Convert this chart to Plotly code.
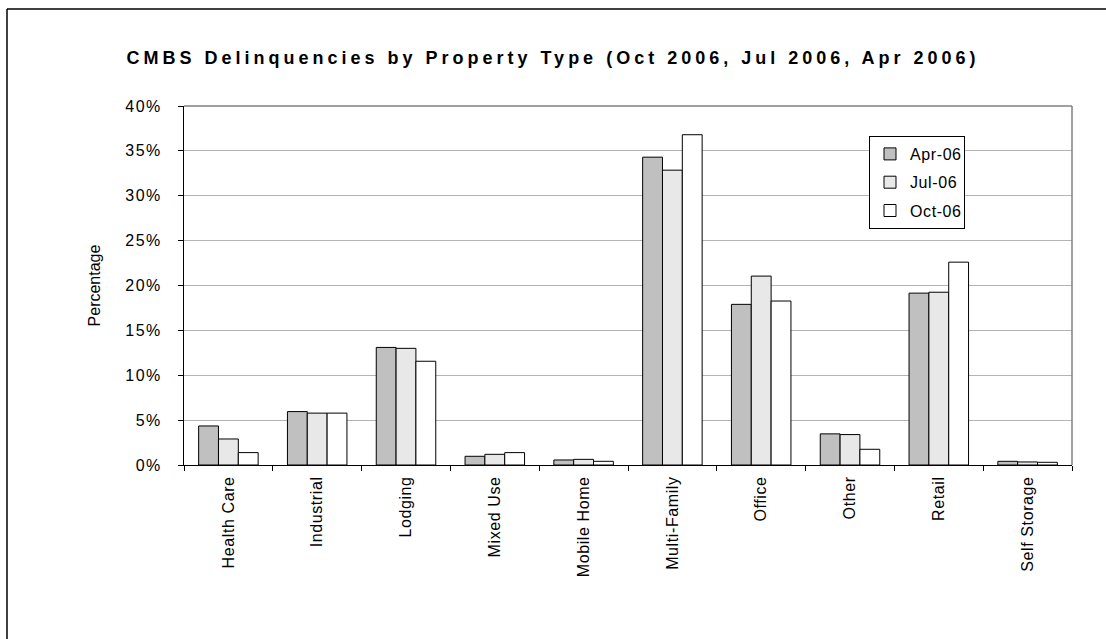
import plotly.graph_objects as go

# CMBS delinquency share (%) by property type
property_types = ["Health Care", "Industrial", "Lodging", "Mixed Use", "Mobile Home",
                  "Multi-Family", "Office", "Other", "Retail", "Self Storage"]
apr_06 = [4.35, 5.95, 13.1, 0.97, 0.56, 34.3, 17.9, 3.47, 19.15, 0.41]
jul_06 = [2.9, 5.78, 13.0, 1.19, 0.63, 32.85, 21.05, 3.39, 19.25, 0.34]
oct_06 = [1.38, 5.78, 11.56, 1.38, 0.41, 36.8, 18.27, 1.75, 22.6, 0.30]

series_names = ["Apr-06", "Jul-06", "Oct-06"]
series_values = [apr_06, jul_06, oct_06]
series_colors = ["#c0c0c0", "#e8e8e8", "#ffffff"]

FONT = "Liberation Sans, Arial, sans-serif"

fig = go.Figure()
for name, vals, col in zip(series_names, series_values, series_colors):
    fig.add_trace(go.Bar(
        x=property_types, y=vals, name=name, legendgroup=name,
        marker=dict(color=col, line=dict(color="#000000", width=1)),
    ))

fig.update_layout(
    width=1106, height=639,
    margin=dict(l=184, r=34, t=106, b=174),
    paper_bgcolor="white", plot_bgcolor="white",
    font=dict(family=FONT, size=16, color="black"),
    barmode="group", bargap=0.33, bargroupgap=0,
    title=dict(
        text="CMBS Delinquencies by Property Type (Oct 2006, Jul 2006, Apr 2006)",
        font=dict(family=FONT, size=18, color="black", weight="bold"),
        x=0.5, xref="container", xanchor="center",
        y=1 - 58 / 639, yref="container", yanchor="middle",
    ),
    legend=dict(
        x=(869 - 184) / 888, xanchor="left",
        y=(465 - 136) / 359, yanchor="top",
        bgcolor="white", bordercolor="black", borderwidth=1,
        font=dict(family=FONT, size=16, color="black"),
        tracegroupgap=4.5, traceorder="grouped",
    ),
    showlegend=True,
)

fig.update_xaxes(
    type="category", showline=True, linecolor="black", linewidth=1,
    ticks="outside", ticklen=5, tickcolor="black", tickson="boundaries",
    tickangle=-90, tickfont=dict(size=16), showgrid=False, ticklabelstandoff=4,
)
fig.update_yaxes(
    range=[0, 40], dtick=5, ticksuffix="%",
    showline=True, linecolor="black", linewidth=1,
    ticks="outside", ticklen=5, tickcolor="black",
    showgrid=True, gridcolor="#b4b4b4", gridwidth=1, zeroline=False,
    tickfont=dict(size=16), ticklabelstandoff=13,
    title=dict(text="Percentage", font=dict(size=16), standoff=25),
)

# plot-area frame on the top and right edges
fig.add_shape(type="line", xref="paper", yref="paper", x0=0, x1=1, y0=1, y1=1,
              line=dict(color="#808080", width=1.5))
fig.add_shape(type="line", xref="paper", yref="paper", x0=1, x1=1, y0=0, y1=1,
              line=dict(color="#808080", width=1.5))

# outer chart border (left and top edges)
bx = (7 - 184) / 888
by = (465 - 9) / 359
fig.add_shape(type="line", xref="paper", yref="paper", x0=bx, x1=1.2, y0=by, y1=by,
              line=dict(color="black", width=1.5))
fig.add_shape(type="line", xref="paper", yref="paper", x0=bx, x1=bx, y0=-1, y1=by,
              line=dict(color="black", width=1.5))

spacing_js = """
var gd = document.getElementById('{plot_id}');
function spread() {
  gd.querySelectorAll('.gtitle').forEach(function (t) { t.style.letterSpacing = '4px'; });
  gd.querySelectorAll('.ytick text').forEach(function (t) { t.style.letterSpacing = '1.5px'; });
  gd.querySelectorAll('.xtick text, .legendtext').forEach(function (t) { t.style.letterSpacing = '0.6px'; });
}
spread();
gd.on('plotly_afterplot', spread);
"""

fig.write_html("out.html", post_script=spacing_js)
